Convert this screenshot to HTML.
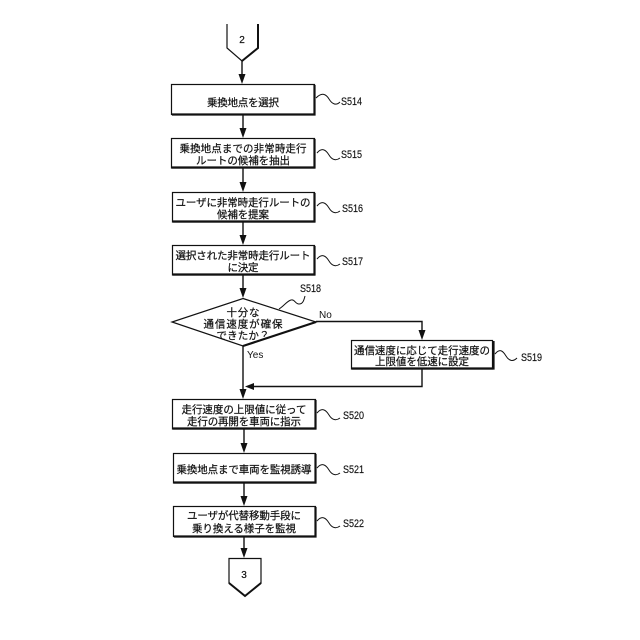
<!DOCTYPE html>
<html lang="ja">
<head>
<meta charset="utf-8">
<title>Flowchart</title>
<style>
html,body{margin:0;padding:0;background:#fff;width:640px;height:640px;overflow:hidden}
svg{display:block}
text{font-family:"Liberation Sans","Noto Sans CJK JP",sans-serif;fill:#111}
.t{font-size:10.5px;text-anchor:middle;stroke:#111;stroke-width:.2}
.l{font-size:11px;font-family:"Liberation Sans",sans-serif;stroke:#111;stroke-width:.15}
.y{font-size:10px;font-family:"Liberation Sans",sans-serif}
.b{fill:#fff;stroke:#111;stroke-width:1.2}
.s{fill:none;stroke:#111;stroke-width:2.2}
.w{fill:none;stroke:#111;stroke-width:1}
.c{fill:none;stroke:#111;stroke-width:1.4}
.h{fill:#111;stroke:none}
</style>
</head>
<body>
<svg width="640" height="640" viewBox="0 0 640 640" xmlns="http://www.w3.org/2000/svg">
<!-- connector 2 -->
<path d="M227 24V48L242 61L258 48V24" class="b"/>
<path d="M242 61L258 48V24" class="w" style="stroke-width:2"/>
<text x="242" y="43" class="t" style="font-size:10px">2</text>
<path d="M242 61V76" class="c"/><path d="M238.500 74H245.500L242 84Z" class="h"/>

<!-- S514 -->
<rect x="171.500" y="84.500" width="143" height="30" class="b"/>
<path d="M172 114.500H314.500V85" class="s"/>
<text x="243" y="106" class="t" textLength="72" lengthAdjust="spacing">乗換地点を選択</text>
<path d="M243 115V130" class="c"/><path d="M239.500 128H246.500L243 138Z" class="h"/>

<!-- S515 -->
<rect x="171.500" y="138.500" width="143" height="29.500" class="b"/>
<path d="M172 167.500H314.500V139" class="s"/>
<text x="243" y="152" class="t" textLength="127" lengthAdjust="spacing">乗換地点までの非常時走行</text>
<text x="243" y="164" class="t" textLength="94" lengthAdjust="spacing">ルートの候補を抽出</text>
<path d="M243 168V184" class="c"/><path d="M239.500 182H246.500L243 192Z" class="h"/>

<!-- S516 -->
<rect x="172.500" y="192.500" width="142" height="29.500" class="b"/>
<path d="M173 221.500H314.500V193" class="s"/>
<text x="243" y="206" class="t" textLength="135" lengthAdjust="spacing">ユーザに非常時走行ルートの</text>
<text x="243" y="218" class="t" textLength="52" lengthAdjust="spacing">候補を提案</text>
<path d="M243 222V237" class="c"/><path d="M239.500 235H246.500L243 245Z" class="h"/>

<!-- S517 -->
<rect x="172.500" y="245.500" width="142" height="29.500" class="b"/>
<path d="M173 274.500H314.500V246" class="s"/>
<text x="243" y="259" class="t" textLength="135" lengthAdjust="spacing">選択された非常時走行ルート</text>
<text x="243" y="271" class="t" textLength="31" lengthAdjust="spacing">に決定</text>
<path d="M243 275V290" class="c"/><path d="M239.500 288H246.500L243 298Z" class="h"/>

<!-- S518 diamond -->
<path d="M243 298.500L316 322L243 346L172 322Z" class="b"/>
<path d="M243 346L316 322" class="s"/>
<text x="243" y="316" class="t" textLength="33" lengthAdjust="spacing">十分な</text>
<text x="243" y="327.500" class="t" textLength="79" lengthAdjust="spacing">通信速度が確保</text>
<text x="243" y="339" class="t" textLength="53" lengthAdjust="spacing">できたか？</text>

<!-- Yes -->
<path d="M243 346V391" class="c"/><path d="M239.500 389H246.500L243 399Z" class="h"/>
<text x="247" y="358" class="y">Yes</text>

<!-- No -->
<path d="M316 321.500H422V332" class="c"/><path d="M418.500 330H425.500L422 340Z" class="h"/>
<text x="319" y="318" class="y">No</text>

<!-- S519 -->
<rect x="351.500" y="340.500" width="141" height="28.500" class="b"/>
<path d="M352 368.500H493.500V341" class="s"/>
<text x="422" y="354" class="t" textLength="136" lengthAdjust="spacing">通信速度に応じて走行速度の</text>
<text x="422" y="365" class="t" textLength="94" lengthAdjust="spacing">上限値を低速に設定</text>
<path d="M422 369V386.500H252" class="c"/><path d="M254 383V390L245 386.500Z" class="h"/>

<!-- S520 -->
<rect x="172.500" y="399.500" width="143" height="29.500" class="b"/>
<path d="M173 428.500H315.500V400" class="s"/>
<text x="244" y="413" class="t" textLength="125" lengthAdjust="spacing">走行速度の上限値に従って</text>
<text x="244" y="425" class="t" textLength="114" lengthAdjust="spacing">走行の再開を車両に指示</text>
<path d="M244 429V445" class="c"/><path d="M240.500 443H247.500L244 453Z" class="h"/>

<!-- S521 -->
<rect x="173.500" y="453.500" width="142" height="29.500" class="b"/>
<path d="M174 482.500H315.500V454" class="s"/>
<text x="244" y="473" class="t" textLength="135" lengthAdjust="spacing">乗換地点まで車両を監視誘導</text>
<path d="M244 483V498" class="c"/><path d="M240.500 496H247.500L244 506Z" class="h"/>

<!-- S522 -->
<rect x="173.500" y="506.500" width="142" height="30" class="b"/>
<path d="M174 536.500H315.500V507" class="s"/>
<text x="244" y="519" class="t" textLength="114" lengthAdjust="spacing">ユーザが代替移動手段に</text>
<text x="244" y="532" class="t" textLength="104" lengthAdjust="spacing">乗り換える様子を監視</text>
<path d="M244 537V550" class="c"/><path d="M240.500 548H247.500L244 558Z" class="h"/>

<!-- connector 3 -->
<path d="M229 558.500H261V583L245 596L229 583Z" class="b"/>
<path d="M229 583L245 596L261 583" class="w" style="stroke-width:2"/>
<text x="244" y="578" class="t" style="font-size:10px">3</text>

<!-- squiggles -->
<path d="M316 98C322 92 326 94 329 99C332 104 336 106 340 102" class="w"/>
<path d="M317 153C322 147 326 150 329 155C332 160 336 161 340 158" class="w"/>
<path d="M317 206C322 200 326 203 329 208C332 213 336 214 340 211" class="w"/>
<path d="M317 259C322 253 326 256 329 261C332 266 336 267 340 264" class="w"/>
<path d="M279 309C284 306 287 301 291 300C295 299 295 304 299 304C303 304 304 300 305 296" class="w"/>
<path d="M495 354C500 348 503 351 506 356C509 361 513 362 517 358" class="w"/>
<path d="M317 413C322 407 326 410 329 415C332 420 336 421 340 418" class="w"/>
<path d="M317 468C322 462 326 465 329 470C332 475 336 476 340 473" class="w"/>
<path d="M317 521C322 515 326 518 329 523C332 528 336 529 340 526" class="w"/>

<!-- step labels -->
<text x="341" y="105" class="l" textLength="21" lengthAdjust="spacingAndGlyphs">S514</text>
<text x="341" y="158" class="l" textLength="21" lengthAdjust="spacingAndGlyphs">S515</text>
<text x="342" y="212" class="l" textLength="21" lengthAdjust="spacingAndGlyphs">S516</text>
<text x="342" y="265" class="l" textLength="21" lengthAdjust="spacingAndGlyphs">S517</text>
<text x="300" y="292" class="l" textLength="21" lengthAdjust="spacingAndGlyphs">S518</text>
<text x="521" y="361" class="l" textLength="21" lengthAdjust="spacingAndGlyphs">S519</text>
<text x="343" y="419" class="l" textLength="21" lengthAdjust="spacingAndGlyphs">S520</text>
<text x="343" y="473" class="l" textLength="21" lengthAdjust="spacingAndGlyphs">S521</text>
<text x="343" y="527" class="l" textLength="21" lengthAdjust="spacingAndGlyphs">S522</text>
</svg>
</body>
</html>
